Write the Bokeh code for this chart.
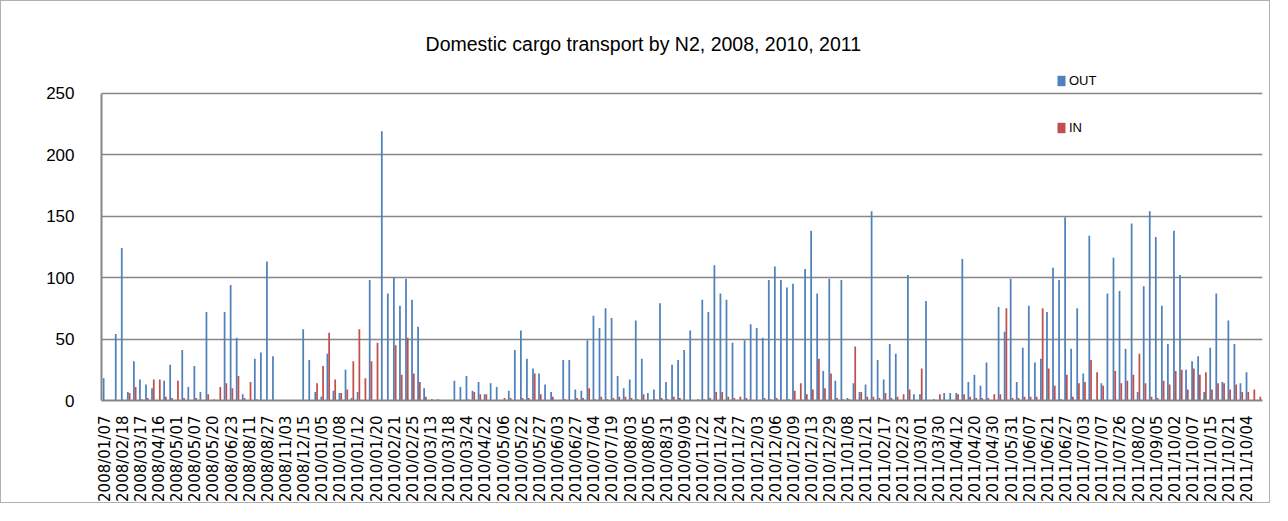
import math
from bokeh.plotting import figure
from bokeh.models import FixedTicker, Legend, LegendItem, ColumnDataSource, Range1d, Label
from bokeh.transform import dodge
from bokeh.embed import file_html
from bokeh.resources import INLINE

title_text = "Domestic cargo transport by N2, 2008, 2010, 2011"

tick_labels = [
    "2008/01/07", "2008/02/18", "2008/03/17", "2008/04/16", "2008/05/01", "2008/05/07",
    "2008/05/20", "2008/06/23", "2008/08/11", "2008/08/27", "2008/11/03", "2008/12/15",
    "2010/01/05", "2010/01/08", "2010/01/12", "2010/01/20", "2010/02/21", "2010/02/25",
    "2010/03/13", "2010/03/18", "2010/03/24", "2010/04/22", "2010/05/06", "2010/05/22",
    "2010/05/27", "2010/06/03", "2010/06/27", "2010/07/04", "2010/07/19", "2010/08/03",
    "2010/08/05", "2010/08/31", "2010/09/09", "2010/11/22", "2010/11/24", "2010/11/27",
    "2010/12/03", "2010/12/06", "2010/12/09", "2010/12/13", "2010/12/29", "2011/01/08",
    "2011/01/21", "2011/02/17", "2011/02/23", "2011/03/01", "2011/03/30", "2011/04/12",
    "2011/04/20", "2011/04/30", "2011/05/31", "2011/06/07", "2011/06/21", "2011/06/27",
    "2011/07/03", "2011/07/07", "2011/07/26", "2011/08/02", "2011/09/05", "2011/10/02",
    "2011/10/07", "2011/10/15", "2011/10/21", "2011/10/04",
]

out_vals = [
    18, 0, 54, 124, 7, 32, 17, 13, 10, 0,
    16, 29, 0, 41, 11, 28, 7, 72, 0, 0,
    72, 94, 51, 5, 0, 34, 39, 113, 36, 0,
    0, 0, 0, 58, 33, 7, 3, 38, 8, 6,
    25, 2, 7, 0, 98, 0, 219, 87, 100, 77,
    99, 82, 60, 10, 0, 0, 0, 0, 16, 11,
    20, 8, 15, 5, 14, 11, 0, 8, 41, 57,
    34, 26, 22, 13, 7, 0, 33, 33, 9, 8,
    49, 69, 59, 75, 67, 20, 10, 17, 65, 34,
    6, 9, 79, 15, 29, 33, 41, 57, 0, 82,
    72, 110, 87, 82, 47, 0, 49, 62, 59, 51,
    98, 109, 98, 92, 95, 0, 107, 138, 87, 24,
    99, 16, 98, 2, 14, 7, 13, 154, 33, 17,
    46, 38, 0, 102, 5, 5, 81, 0, 0, 6,
    6, 6, 115, 15, 21, 12, 31, 0, 76, 56,
    99, 15, 43, 77, 31, 34, 72, 108, 98, 149,
    42, 75, 22, 134, 0, 14, 87, 116, 89, 42,
    144, 7, 93, 154, 133, 77, 46, 138, 102, 25,
    32, 36, 7, 43, 87, 15, 65, 46, 14, 23,
    0, 0,
]

in_vals = [
    0, 0, 0, 0, 6, 11, 1, 2, 17, 17,
    3, 2, 16, 2, 0, 2, 0, 5, 1, 11,
    14, 10, 20, 2, 15, 1, 0, 0, 0, 0,
    0, 0, 0, 0, 0, 14, 28, 55, 17, 6,
    9, 32, 58, 18, 32, 47, 0, 0, 45, 21,
    51, 22, 15, 3, 1, 1, 0, 0, 0, 0,
    1, 7, 5, 5, 0, 0, 2, 2, 0, 2,
    2, 22, 5, 0, 3, 0, 1, 0, 2, 2,
    10, 1, 3, 1, 2, 3, 3, 2, 1, 5,
    0, 1, 2, 1, 3, 2, 0, 0, 1, 1,
    2, 7, 7, 3, 2, 3, 2, 0, 0, 2,
    1, 2, 0, 1, 8, 14, 5, 9, 34, 10,
    22, 2, 1, 1, 44, 7, 3, 3, 2, 6,
    2, 3, 5, 9, 0, 26, 0, 1, 5, 0,
    0, 5, 5, 3, 2, 2, 2, 5, 5, 75,
    2, 2, 3, 3, 3, 75, 26, 12, 1, 21,
    3, 14, 15, 33, 23, 12, 0, 24, 14, 16,
    21, 38, 14, 3, 2, 16, 13, 24, 25, 9,
    26, 21, 23, 9, 14, 14, 9, 13, 7, 7,
    9, 3,
]

n = len(out_vals)
idx = list(range(n))
tick_idx = list(range(0, 3 * len(tick_labels), 3))

src = ColumnDataSource(dict(i=idx, out=out_vals, inn=in_vals))

p = figure(width=1270, height=503, output_backend="svg", toolbar_location=None,
           x_range=Range1d(-0.5, n - 0.5), y_range=Range1d(0, 318),
           min_border_left=100, min_border_right=9, min_border_top=8,
           min_border_bottom=102)

r_out = p.vbar(x=dodge("i", -0.145, range=p.x_range), top="out", width=0.29,
               source=src, fill_color="#4F81BD", line_color=None)
r_in = p.vbar(x=dodge("i", 0.145, range=p.x_range), top="inn", width=0.29,
              source=src, fill_color="#C0504D", line_color=None)

title = Label(x=89.1, y=289.6, text=title_text, text_align="center",
              text_baseline="middle", text_font="Liberation Sans",
              text_font_size="19.5px", text_color="#000000")
p.add_layout(title)

p.xaxis.ticker = FixedTicker(ticks=tick_idx)
p.xaxis.major_label_overrides = {t: lab for t, lab in zip(tick_idx, tick_labels)}
p.xaxis.major_label_orientation = math.pi / 2
p.xaxis.major_label_text_font = "DejaVu Sans"
p.xaxis.major_label_text_font_size = "15px"
p.xaxis.major_label_text_color = "#000000"
p.xaxis.major_label_standoff = 9
p.xaxis.major_tick_line_color = None
p.xaxis.minor_tick_line_color = None
p.xaxis.axis_line_color = "#868686"
p.xaxis.axis_line_width = 2

p.yaxis.ticker = FixedTicker(ticks=[0, 50, 100, 150, 200, 250])
p.yaxis.bounds = (0, 250)
p.yaxis.major_label_text_font = "Liberation Sans"
p.yaxis.major_label_text_font_size = "17px"
p.yaxis.major_label_text_color = "#000000"
p.yaxis.major_label_standoff = 21
p.yaxis.major_tick_line_color = None
p.yaxis.minor_tick_line_color = None
p.yaxis.axis_line_color = "#868686"
p.yaxis.axis_line_width = 2

p.xgrid.grid_line_color = None
p.ygrid.grid_line_color = "#868686"
p.ygrid.grid_line_width = 1.5
p.outline_line_color = None

legend = Legend(items=[LegendItem(label="OUT", renderers=[r_out]),
                       LegendItem(label="IN", renderers=[r_in])],
                location=(955, 265), orientation="vertical",
                background_fill_alpha=0, border_line_color=None,
                padding=0, margin=0, spacing=32,
                glyph_height=13, glyph_width=10, label_height=13,
                label_standoff=3, label_text_font="Liberation Sans",
                label_text_font_size="13px", label_text_color="#000000")
p.add_layout(legend)

p.styles = {"border": "1px solid #b0b0b0"}

open("out.html", "w").write(file_html(p, INLINE))
